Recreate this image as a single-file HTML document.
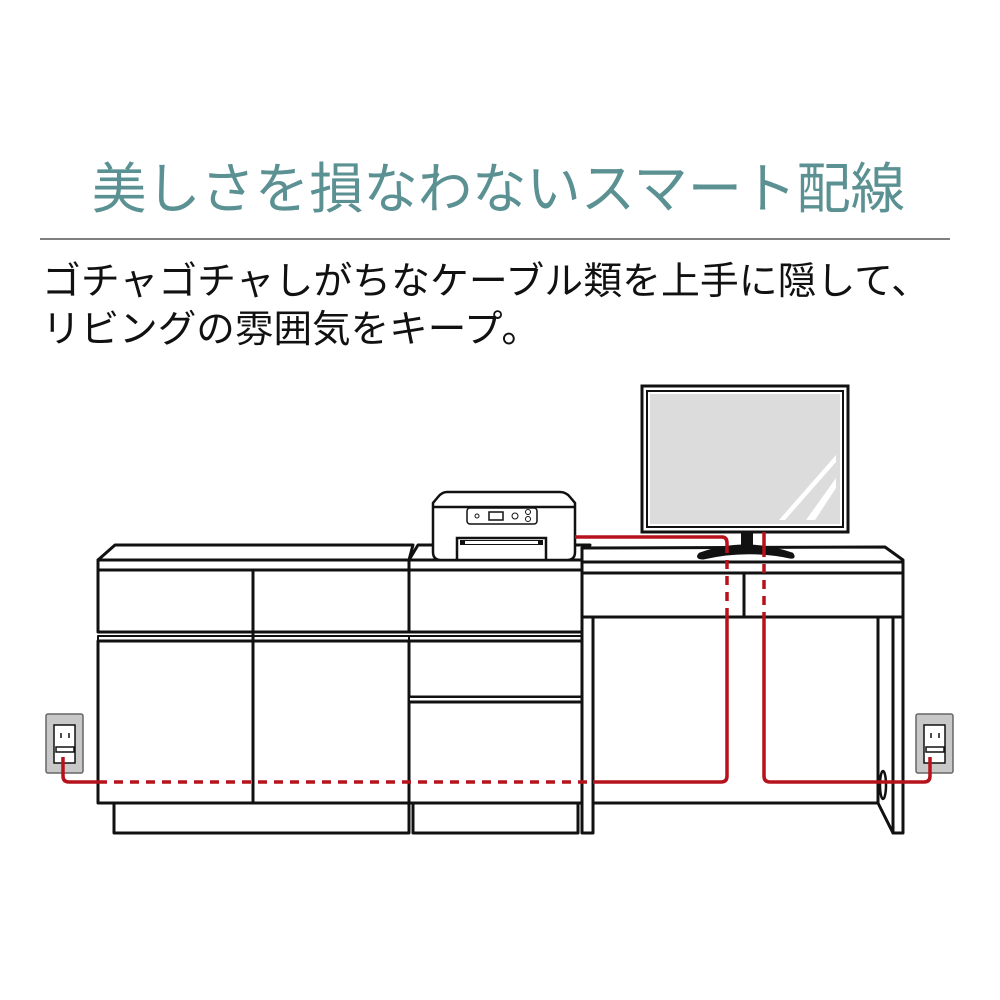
<!DOCTYPE html>
<html><head><meta charset="utf-8"><style>
html,body{margin:0;padding:0;background:#fff;}
svg{display:block;}
text{font-family:"Liberation Sans","Noto Sans CJK JP",sans-serif;}
</style></head><body>
<svg width="1000" height="1000" viewBox="0 0 1000 1000" xmlns="http://www.w3.org/2000/svg">
<text x="92" y="208" font-size="55" fill="#5b9192" textLength="813" lengthAdjust="spacingAndGlyphs">美しさを損なわないスマート配線</text>
<line x1="40" y1="239" x2="950" y2="239" stroke="#555" stroke-width="1.5"/>
<text x="42" y="294" font-size="38" fill="#111" textLength="888" lengthAdjust="spacingAndGlyphs">ゴチャゴチャしがちなケーブル類を上手に隠して、</text>
<text x="42" y="342" font-size="38" fill="#111" textLength="498" lengthAdjust="spacingAndGlyphs">リビングの雰囲気をキープ。</text>

<g fill="#fff" stroke="#111" stroke-width="3" stroke-linejoin="round">
<rect x="114" y="803" width="295" height="30"/>
<rect x="413" y="803" width="165" height="30"/>
<path d="M98 560 L115 545 L413 545 L409 560 Z"/>
<rect x="98" y="560" width="311" height="10"/>
<rect x="98" y="570" width="311" height="62"/>
<rect x="98" y="636" width="311" height="5" stroke-width="2"/>
<rect x="98" y="641" width="311" height="162"/>
<line x1="253" y1="570" x2="253" y2="803"/>
<path d="M409 560 L418 545 L590 545 L582 560 Z"/>
<rect x="409" y="560" width="173" height="10"/>
<rect x="409" y="570" width="173" height="62"/>
<rect x="409" y="636" width="173" height="5" stroke-width="2"/>
<rect x="409" y="641" width="173" height="56"/>
<rect x="409" y="697" width="173" height="5" stroke-width="2"/>
<rect x="409" y="702" width="173" height="101"/>
<rect x="582" y="548" width="11" height="285"/>
<path d="M878 617 L893 617 L893 833 L878 803 Z"/>
<rect x="893" y="617" width="10" height="216"/>
<line x1="593" y1="803" x2="878" y2="803"/>
<path d="M582 548 L885 547 L903 560 L903 573 L582 573 Z"/>
<line x1="582" y1="562" x2="903" y2="562"/>
<rect x="582" y="573" width="321" height="44"/>
<line x1="744" y1="573" x2="744" y2="617"/>
<ellipse cx="883" cy="785" rx="3" ry="14" stroke-width="2.5"/>
</g>

<g stroke="#111" stroke-width="2.5" fill="#fff">
<path d="M447 492 L560 492 Q566 492 570 497 L575 503 L575 552 Q575 560 567 560 L441 560 Q433 560 433 552 L433 503 L438 497 Q442 492 447 492 Z"/>
<line x1="434" y1="507" x2="574" y2="507"/>
<rect x="467" y="508" width="70" height="16" rx="3" stroke-width="1.5"/>
<rect x="489" y="512" width="14" height="8" stroke-width="1.5"/>
<circle cx="477" cy="516" r="2" stroke-width="1"/>
<circle cx="515" cy="516" r="3" stroke-width="1"/>
<circle cx="528" cy="512" r="2.5" stroke-width="1"/>
<circle cx="528" cy="519" r="2.5" stroke-width="1"/>
<rect x="457" y="538" width="89" height="22" stroke-width="2.5"/>
<rect x="460" y="540" width="83" height="5" fill="#111" stroke-width="0"/>
<rect x="465" y="541" width="73" height="3" fill="#fff" stroke-width="0"/>
</g>

<g stroke="#111">
<rect x="642" y="386" width="206" height="146" fill="#fff" stroke-width="3"/>
<rect x="647" y="391" width="196" height="136" fill="none" stroke-width="2"/>
<rect x="650" y="394" width="190" height="130" fill="#dcdcdc" stroke-width="0"/>
<polygon points="836,455 836,462 785,520 779,520" fill="#fff" stroke="none"/>
<polygon points="836,478 836,488 815,520 806,520" fill="#fff" stroke="none"/>
<rect x="741" y="532" width="12" height="14" fill="#111" stroke="none"/>
<path d="M700 554 Q745 538 792 554 Q795 558 790 557 Q747 548 703 558 Q696 558 700 554 Z" fill="#111" stroke="#111" stroke-width="3"/>
</g>

<g>
<rect x="46" y="714" width="37" height="59" rx="2" fill="#c8c8c8" stroke="#666" stroke-width="1.5"/>
<rect x="54" y="725" width="21" height="38" fill="#fff" stroke="#111" stroke-width="1.5"/>
<line x1="61" y1="733" x2="61" y2="738" stroke="#111" stroke-width="1.5"/>
<line x1="69" y1="733" x2="69" y2="738" stroke="#111" stroke-width="1.5"/>
<path d="M56 747 L74 747 L74 752 L56 752 Z" fill="#fff" stroke="#111" stroke-width="1.5"/>
<rect x="916" y="714" width="37" height="59" rx="2" fill="#c8c8c8" stroke="#666" stroke-width="1.5"/>
<rect x="924" y="725" width="21" height="38" fill="#fff" stroke="#111" stroke-width="1.5"/>
<line x1="931" y1="733" x2="931" y2="738" stroke="#111" stroke-width="1.5"/>
<line x1="939" y1="733" x2="939" y2="738" stroke="#111" stroke-width="1.5"/>
<path d="M926 747 L944 747 L944 752 L926 752 Z" fill="#fff" stroke="#111" stroke-width="1.5"/>
</g>

<g fill="none" stroke="#b5121b" stroke-width="3.5">
<path d="M63 757 L63 776 Q63 782 69 782 L98 782"/>
<line x1="98" y1="782" x2="593" y2="782" stroke-dasharray="9,7"/>
<path d="M593 782 L721 782 Q727 782 727 776 L727 617"/>
<line x1="727" y1="617" x2="727" y2="548" stroke-dasharray="9,7"/>
<path d="M575 537 L722 537 Q727 537 727 543 L727 548"/>
<line x1="764" y1="532" x2="764" y2="548"/>
<line x1="764" y1="548" x2="764" y2="617" stroke-dasharray="9,7"/>
<path d="M764 617 L764 776 Q764 782 770 782 L924 782 Q930 782 930 776 L930 757"/>
</g>
</svg>
</body></html>
